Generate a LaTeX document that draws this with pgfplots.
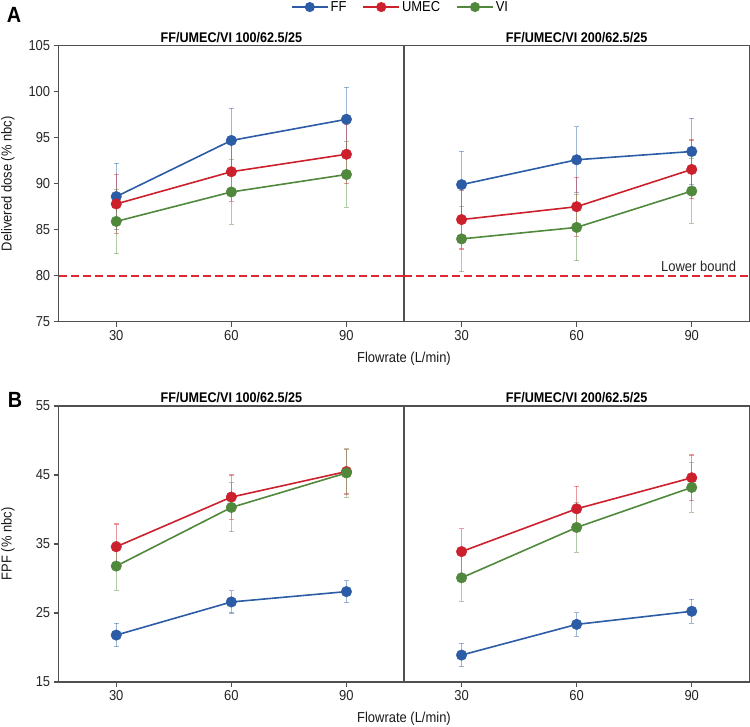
\documentclass[border=0pt]{standalone}
\usepackage{fontspec}
\setmainfont{Liberation Sans}[FakeStretch=0.9]
\usepackage{pgfplots}
\pgfplotsset{compat=1.18}

\definecolor{ffblue}{RGB}{43,92,165}
\definecolor{umecred}{RGB}{204,32,44}
\definecolor{vigreen}{RGB}{80,136,60}
\definecolor{axgray}{RGB}{80,80,80}
\definecolor{lbred}{RGB}{225,40,50}

\newcommand{\lblfont}{\fontsize{14.4}{17}\selectfont}
\newcommand{\ttlfont}{\fontsize{14}{17}\selectfont\bfseries}

\pgfplotsset{
  panel/.style={
    scale only axis, width=345.3pt, height=276pt,
    xmin=15, xmax=105, xtick={30,60,90},
    axis line style={axgray, line width=1.4pt},
    tick style={axgray, line width=1.2pt},
    major tick length=5pt,
    tick align=outside, xtick pos=bottom, ytick pos=left,
    tick label style={font=\lblfont, color=black!85},
    /pgf/number format/assume math mode=true,
    label style={font=\lblfont, color=black!90},
    clip=false,
  },
  % error bars only, drawn underneath
  err/.style={forget plot, draw=none, mark=none,
    error bars/.cd, y dir=both, y explicit,
    error bar style={draw=#1, opacity=0.45, line width=1.1pt, solid},
    error mark options={rotate=90, mark size=2.3pt, line width=1.1pt, draw=#1, opacity=0.45}},
  % line with markers, drawn on top
  ser/.style={color=#1, line width=1.6pt, mark=*, mark size=5.3pt,
    mark options={solid, fill=#1, draw=#1, line width=0.4pt}},
}
\tikzset{lowerbound/.style={draw=lbred, line width=2pt, dash pattern=on 8pt off 4pt}}

\begin{document}
\begin{tikzpicture}
\path[use as bounding box] (0pt,0pt) rectangle (750pt,-727pt);

% ---------------- panel A ----------------
\begin{axis}[panel, at={(58.7pt,-321.7pt)}, anchor=south west,
  ymin=75, ymax=105, ytick={75,80,...,105},
  ylabel={Delivered dose (\% nbc)},
  ylabel style={at={(axis description cs:-0.147,0.5)}, anchor=center},
  legend columns=3,
  legend style={draw=none, fill=none, font=\lblfont,
    at={(axis description cs:0.990,1.140)}, anchor=center,
    /tikz/every even column/.append style={column sep=14pt}},
  legend image code/.code={
    \draw[#1, mark=none] (0pt,0pt) -- (36pt,0pt);
    \fill[#1] (18pt,0pt) circle[radius=4.2pt];},
]
\draw[lowerbound] (axis cs:15,80) -- (axis cs:105,80);
\addplot[err=ffblue] coordinates {(30,88.6) +- (0,3.6) (60,94.7) +- (0,3.5) (90,97.0) +- (0,3.5)};
\addplot[err=umecred] coordinates {(30,87.8) +- (0,3.2) (60,91.3) +- (0,3.2) (90,93.2) +- (0,3.2)};
\addplot[err=vigreen] coordinates {(30,85.9) +- (0,3.5) (60,89.1) +- (0,3.5) (90,91.0) +- (0,3.55)};
\addplot[ser=ffblue] coordinates {(30,88.6) (60,94.7) (90,97.0)};
\addplot[ser=umecred] coordinates {(30,87.8) (60,91.3) (90,93.2)};
\addplot[ser=vigreen] coordinates {(30,85.9) (60,89.1) (90,91.0)};
\legend{FF, UMEC, VI}
\node[font=\ttlfont, anchor=base] at (rel axis cs:0.5,1) [yshift=3.5pt] {FF/UMEC/VI 100/62.5/25};
\end{axis}

\begin{axis}[panel, at={(404pt,-321.7pt)}, anchor=south west,
  ymin=75, ymax=105, ytick=\empty,
  xlabel={Flowrate (L/min)},
  xlabel style={at={(axis description cs:0,-0.1326)}, anchor=center},
]
\draw[lowerbound] (axis cs:15,80) -- (axis cs:105,80);
\addplot[err=ffblue] coordinates {(30,89.9) +- (0,3.6) (60,92.6) +- (0,3.6) (90,93.5) +- (0,3.6)};
\addplot[err=umecred] coordinates {(30,86.1) +- (0,3.2) (60,87.5) +- (0,3.2) (90,91.55) +- (0,3.2)};
\addplot[err=vigreen] coordinates {(30,84.0) +- (0,3.55) (60,85.25) +- (0,3.6) (90,89.2) +- (0,3.5)};
\addplot[ser=ffblue] coordinates {(30,89.9) (60,92.6) (90,93.5)};
\addplot[ser=umecred] coordinates {(30,86.1) (60,87.5) (90,91.55)};
\addplot[ser=vigreen] coordinates {(30,84.0) (60,85.25) (90,89.2)};
\node[font=\lblfont, color=black!85, anchor=base east] at (axis cs:102.5,80) [yshift=4pt] {Lower bound};
\node[font=\ttlfont, anchor=base] at (rel axis cs:0.5,1) [yshift=3.5pt] {FF/UMEC/VI 200/62.5/25};
\end{axis}

% ---------------- panel B ----------------
\begin{axis}[panel, at={(58.7pt,-682pt)}, anchor=south west,
  ymin=15, ymax=55, ytick={15,25,35,45,55},
  ylabel={FPF (\% nbc)},
  ylabel style={at={(axis description cs:-0.147,0.5)}, anchor=center},
]
\addplot[err=ffblue] coordinates {(30,21.8) +- (0,1.7) (60,26.6) +- (0,1.6) (90,28.1) +- (0,1.6)};
\addplot[err=umecred] coordinates {(30,34.6) +- (0,3.3) (60,41.8) +- (0,3.2) (90,45.5) +- (0,3.25)};
\addplot[err=vigreen] coordinates {(30,31.8) +- (0,3.5) (60,40.3) +- (0,3.55) (90,45.3) +- (0,3.5)};
\addplot[ser=ffblue] coordinates {(30,21.8) (60,26.6) (90,28.1)};
\addplot[ser=umecred] coordinates {(30,34.6) (60,41.8) (90,45.5)};
\addplot[ser=vigreen] coordinates {(30,31.8) (60,40.3) (90,45.3)};
\node[font=\ttlfont, anchor=base] at (rel axis cs:0.5,1) [yshift=3.5pt] {FF/UMEC/VI 100/62.5/25};
\end{axis}

\begin{axis}[panel, at={(404pt,-682pt)}, anchor=south west,
  ymin=15, ymax=55, ytick=\empty,
  xlabel={Flowrate (L/min)},
  xlabel style={at={(axis description cs:0,-0.1326)}, anchor=center},
]
\addplot[err=ffblue] coordinates {(30,18.9) +- (0,1.7) (60,23.35) +- (0,1.7) (90,25.25) +- (0,1.75)};
\addplot[err=umecred] coordinates {(30,33.9) +- (0,3.3) (60,40.1) +- (0,3.25) (90,44.6) +- (0,3.3)};
\addplot[err=vigreen] coordinates {(30,30.1) +- (0,3.4) (60,37.4) +- (0,3.6) (90,43.2) +- (0,3.6)};
\addplot[ser=ffblue] coordinates {(30,18.9) (60,23.35) (90,25.25)};
\addplot[ser=umecred] coordinates {(30,33.9) (60,40.1) (90,44.6)};
\addplot[ser=vigreen] coordinates {(30,30.1) (60,37.4) (90,43.2)};
\node[font=\ttlfont, anchor=base] at (rel axis cs:0.5,1) [yshift=3.5pt] {FF/UMEC/VI 200/62.5/25};
\end{axis}

\node[font=\fontsize{22}{24}\selectfont\bfseries] at (14pt,-15pt) {A};
\node[font=\fontsize{22}{24}\selectfont\bfseries] at (15pt,-399.5pt) {B};
\end{tikzpicture}
\end{document}
